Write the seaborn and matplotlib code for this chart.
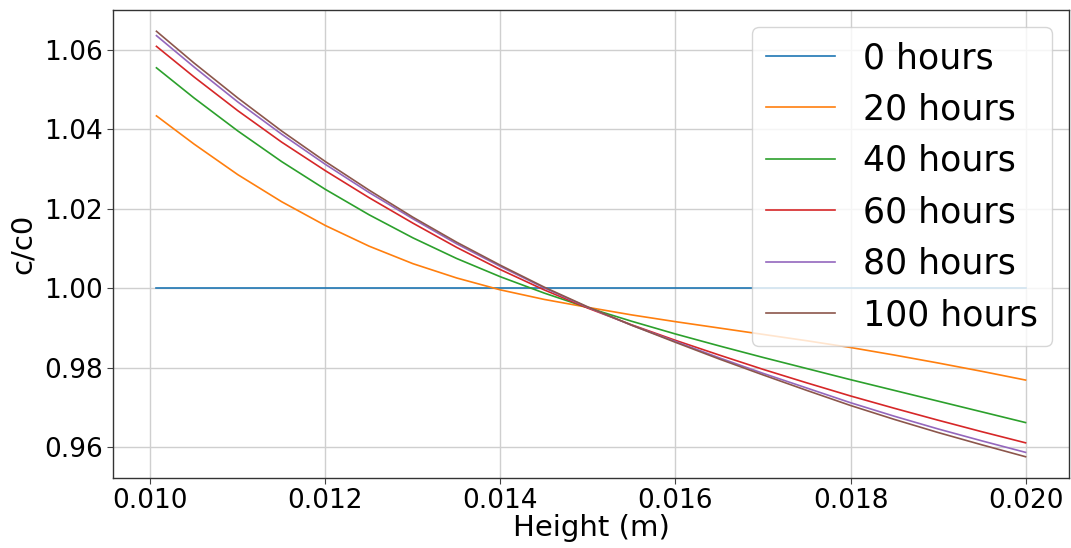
import matplotlib
matplotlib.use("Agg")
import matplotlib.pyplot as plt
import seaborn as sns
import pandas as pd

# Height positions (m) at which the concentration ratio is tabulated
height = [0.01007, 0.0105, 0.011, 0.0115, 0.012, 0.0125, 0.013, 0.0135, 0.014, 0.0145,
          0.015, 0.0155, 0.016, 0.0165, 0.017, 0.0175, 0.018, 0.0185, 0.019, 0.0195, 0.020]

# c/c0 profiles after increasing settling times
c_0h = [1.0] * 21
c_20h = [1.0434, 1.0363, 1.0286, 1.0218, 1.0158, 1.0106, 1.0062, 1.0026, 0.9996, 0.9972,
         0.9952, 0.9933, 0.9916, 0.9900, 0.9884, 0.9868, 0.9851, 0.9832, 0.9812, 0.9791, 0.9769]
c_40h = [1.0555, 1.0479, 1.0396, 1.0319, 1.0249, 1.0185, 1.0127, 1.0075, 1.0029, 0.9988,
         0.9951, 0.9917, 0.9885, 0.9855, 0.9826, 0.9798, 0.9770, 0.9743, 0.9716, 0.9689, 0.9662]
c_60h = [1.0609, 1.0532, 1.0447, 1.0368, 1.0296, 1.0228, 1.0164, 1.0103, 1.0047, 0.9996,
         0.9950, 0.9908, 0.9869, 0.9832, 0.9796, 0.9762, 0.9729, 0.9698, 0.9668, 0.9639, 0.9611]
c_80h = [1.0636, 1.0557, 1.0469, 1.0388, 1.0312, 1.0241, 1.0175, 1.0112, 1.0055, 1.0001,
         0.9952, 0.9907, 0.9866, 0.9825, 0.9786, 0.9749, 0.9712, 0.9678, 0.9646, 0.9616, 0.9587]
c_100h = [1.0647, 1.0567, 1.0479, 1.0396, 1.0319, 1.0247, 1.0179, 1.0116, 1.0058, 1.0003,
          0.9953, 0.9907, 0.9864, 0.9822, 0.9782, 0.9743, 0.9705, 0.9670, 0.9637, 0.9606, 0.9576]

labels = ["0 hours", "20 hours", "40 hours", "60 hours", "80 hours", "100 hours"]
series = [c_0h, c_20h, c_40h, c_60h, c_80h, c_100h]

frames = []
for lab, vals in zip(labels, series):
    frames.append(pd.DataFrame({"Height (m)": height, "c/c0": vals, "time": lab}))
df = pd.concat(frames, ignore_index=True)

plt.rcParams["font.family"] = ["DejaVu Sans"]
fig = plt.figure(figsize=(10.71, 5.48), dpi=100)
ax = fig.add_axes([113 / 1071, 70 / 548, (1069 - 113) / 1071, 468 / 548])

sns.lineplot(data=df, x="Height (m)", y="c/c0", hue="time", hue_order=labels,
             palette=sns.color_palette("tab10", 6), linewidth=1.2, ax=ax)

ax.grid(True, color="#cfcfcf", linewidth=1.0)
ax.set_axisbelow(True)
ax.set_xticks([0.010, 0.012, 0.014, 0.016, 0.018, 0.020])
ax.set_yticks([0.96, 0.98, 1.00, 1.02, 1.04, 1.06])
ax.set_xticklabels(["0.010", "0.012", "0.014", "0.016", "0.018", "0.020"])
ax.set_yticklabels(["0.96", "0.98", "1.00", "1.02", "1.04", "1.06"])
ax.tick_params(labelsize=19, length=4, color="#444444")
ax.set_xlabel("Height (m)", fontsize=21, labelpad=0)
ax.set_ylabel("c/c0", fontsize=21, labelpad=5)
for sp in ax.spines.values():
    sp.set_color("#333333")
    sp.set_linewidth(1.0)

leg = ax.legend(fontsize=25, loc="upper right", title=None, framealpha=0.8,
                handlelength=2.0, borderaxespad=0.5)
for line in leg.get_lines():
    line.set_linewidth(1.2)

fig.savefig("out.png", dpi=100)
